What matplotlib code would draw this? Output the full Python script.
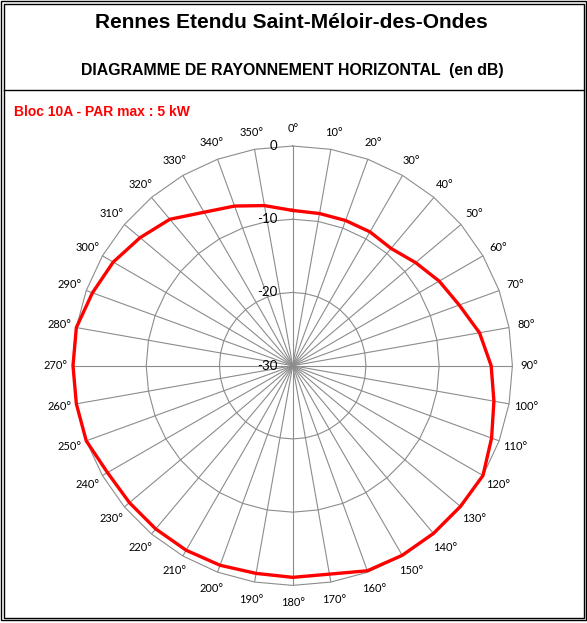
import numpy as np
import matplotlib
matplotlib.use("Agg")
import matplotlib.pyplot as plt
from matplotlib.patches import Rectangle
from matplotlib.lines import Line2D

# horizontal radiation pattern, dB relative to max, every 10 degrees
angles_deg = list(range(0, 360, 10))
attenuation_db = [
    -8.8, -8.9, -8.9, -8.9, -9.1, -8.1, -6.9, -5.8, -4.1,   # 0..80
    -2.9, -2.1, -1.1, 0.0, -0.1, -0.1, -0.1, -0.2, -1.1,    # 90..170
    -1.1, -1.2, -1.0, -0.9, -0.9, -0.9, -0.8, 0.0, 0.0,     # 180..260
    0.0, 0.0, -0.9, -1.7, -2.8, -3.9, -5.8, -6.8, -7.8,     # 270..350
]
ring_values = [0, -10, -20, -30]
angle_labels = [f"{a}°" for a in angles_deg]

title = "Rennes Etendu Saint-Méloir-des-Ondes"
subtitle = "DIAGRAMME DE RAYONNEMENT HORIZONTAL  (en dB)"
bloc_label = "Bloc 10A - PAR max : 5 kW"

W, H = 587, 623
GRID = "#8c8c8c"

fig = plt.figure(figsize=(W / 100, H / 100), dpi=100)


def fx(px):
    return px / W


def fy(py):
    # py measured from top
    return 1 - py / H


# frame: double border + separator under the title block
for x0, y0, x1, y1 in [(1, 1, 586, 620), (3.5, 3.5, 583.5, 617.5)]:
    fig.add_artist(Rectangle((fx(x0), fy(y1)), fx(x1 - x0), (y1 - y0) / H,
                             fill=False, ec="black", lw=1.0,
                             transform=fig.transFigure))
fig.add_artist(Line2D([fx(3.5), fx(583.5)], [fy(89.5), fy(89.5)],
                      color="black", lw=1.0, transform=fig.transFigure))

fig.text(fx(291), fy(23), title, ha="center", va="center",
         fontsize=15, fontweight="bold", family="Liberation Sans")
fig.text(fx(292.5), fy(71), subtitle, ha="center", va="center",
         fontsize=11.4, fontweight="bold", family="Liberation Sans")
fig.text(fx(13.5), fy(112.5), bloc_label, ha="left", va="center", color="red",
         fontsize=10, fontweight="bold", family="Liberation Sans")

# polar area: centre (292.7, 365.7) px, outer radius 219.7 px
cx, cy, R = 292.7, 365.7, 219.7
ax = fig.add_axes([fx(cx - R), fy(cy + R), 2 * R / W, 2 * R / H],
                  projection="polar")
ax.set_theta_zero_location("N")
ax.set_theta_direction(-1)
ax.set_ylim(-30, 0)
ax.set_yticks(ring_values)
ax.set_yticklabels([])
ax.set_xticks(np.deg2rad(angles_deg))
ax.set_xticklabels([])
ax.xaxis.grid(True, color=GRID, lw=0.8)
ax.yaxis.grid(False)
ax.spines["polar"].set_visible(False)
ax.tick_params(length=0)
ax.patch.set_alpha(0)

# polygonal rings, as in a spreadsheet radar chart
theta = np.deg2rad(angles_deg + [angles_deg[0]])
for v in ring_values[:-1]:
    ax.plot(theta, [v] * len(theta), color=GRID, lw=0.8, zorder=1,
            clip_on=False)

r = attenuation_db + [attenuation_db[0]]
ax.plot(theta, r, color="red", lw=2.4, solid_joinstyle="miter", zorder=5,
        clip_on=False)

# angle labels just outside the rim
label_r = 237 / R * 30 - 30
for a, lab in zip(angles_deg, angle_labels):
    ax.text(np.deg2rad(a), label_r, lab, ha="center", va="center",
            fontsize=8, family="Lato", color="black", clip_on=False)

# ring values left of the 0° spoke
for v in ring_values:
    ax.annotate(str(v), xy=(0, v), xytext=(-15, 0), textcoords="offset pixels",
                ha="right", va="center", fontsize=9.5, family="Lato",
                color="black", annotation_clip=False)

fig.savefig("out.png", dpi=100)
